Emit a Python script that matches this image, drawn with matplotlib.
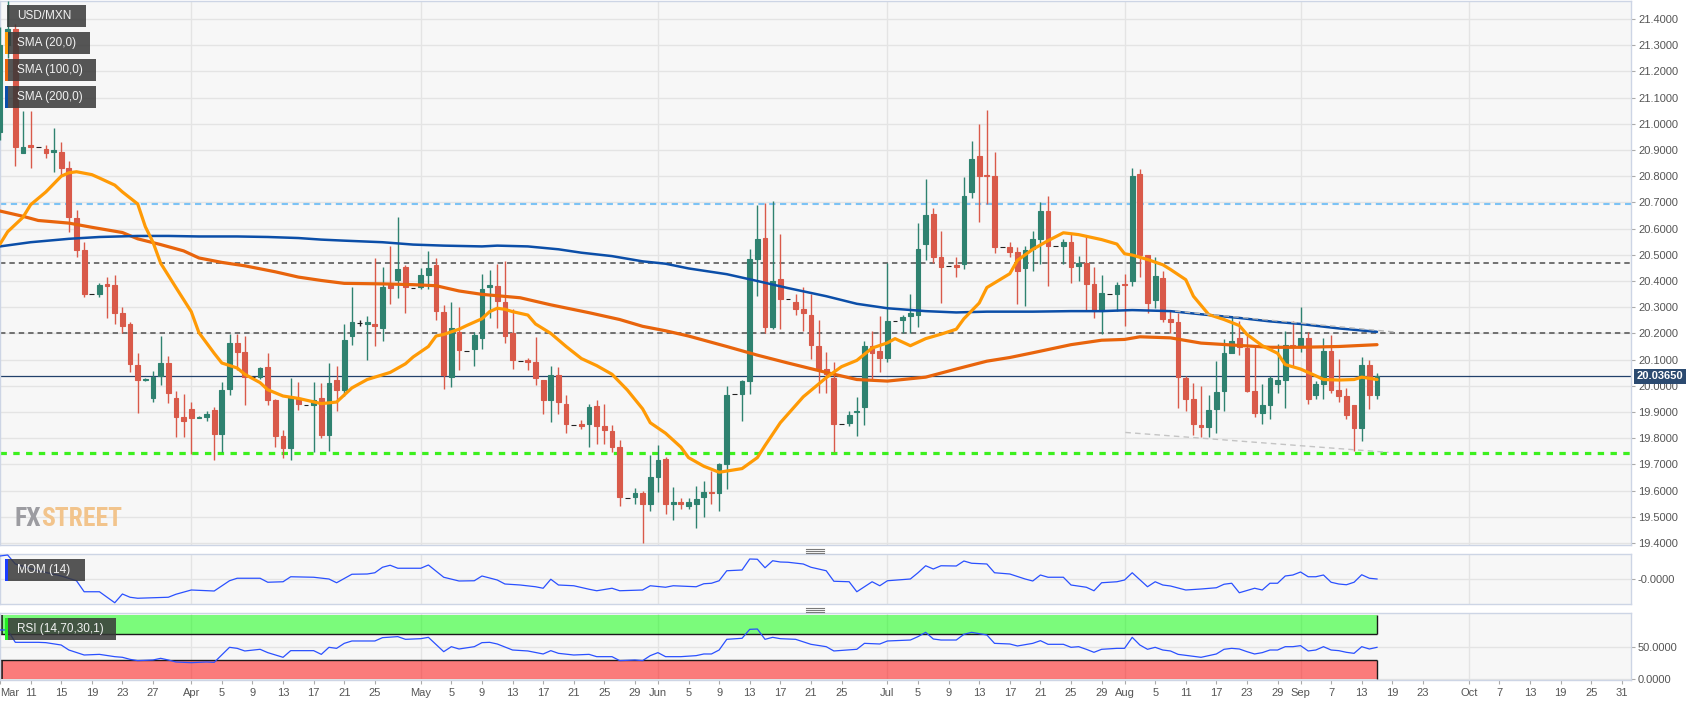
import numpy as np
import pandas as pd
import matplotlib
matplotlib.use("Agg")
import matplotlib.pyplot as plt
from matplotlib.patches import Rectangle
from matplotlib.lines import Line2D

plt.rcParams['font.family'] = ['Liberation Sans', 'DejaVu Sans']

# ---------------------------------------------------------------- data
daily_part = pd.date_range("2022-03-07", "2022-07-31", freq="D")
weekday_part = pd.bdate_range("2022-08-01", "2022-10-31")
slot_dates = daily_part.append(weekday_part)

opens = [
    20.97, 21.30, 21.36, 20.89, 20.92, 20.91, 20.905, 20.894, 20.892, 20.83,
    20.641, 20.517, 20.349, 20.352, 20.389, 20.383, 20.279, 20.236, 20.081, 20.024,
    19.954, 20.037, 20.087, 19.955, 19.881, 19.912, 19.879, 19.881, 19.908, 19.815,
    19.988, 20.163, 20.13, 20.033, 20.033, 20.071, 19.947, 19.808, 19.763, 19.955,
    19.925, 19.927, 19.955, 19.812, 20.022, 19.985, 20.19, 20.239, 20.235, 20.236,
    20.219, 20.385, 20.405, 20.452, 20.372, 20.378, 20.422, 20.462, 20.283, 20.033,
    20.206, 20.134, 20.14, 20.183, 20.376, 20.382, 20.32, 20.201, 20.094, 20.10,
    20.091, 20.024, 19.945, 20.041, 19.931, 19.852, 19.856, 19.856, 19.922, 19.845,
    19.828, 19.766, 19.571, 19.574, 19.591, 19.547, 19.653, 19.719, 19.547, 19.556,
    19.543, 19.547, 19.574, 19.596, 19.591, 19.70, 19.967, 19.967, 20.02, 20.484,
    20.564, 20.223, 20.409, 20.333, 20.32, 20.293, 20.272, 20.153, 20.064, 20.028,
    19.856, 19.859, 19.901, 19.918, 20.153, 20.133, 20.108, 20.249, 20.253, 20.267,
    20.269, 20.541, 20.654, 20.492, 20.458, 20.462, 20.466, 20.74, 20.876, 20.806,
    20.802, 20.53, 20.53, 20.512, 20.448, 20.521, 20.561, 20.667, 20.535, 20.535,
    20.55, 20.458, 20.468, 20.389, 20.285, 20.352, 20.352, 20.39, 20.399, 20.81,
    20.499, 20.329, 20.413, 20.254, 20.243, 20.031, 19.951, 19.852, 19.843, 19.912,
    19.98, 20.127, 20.183, 20.144, 19.98, 19.896, 19.928, 20.007, 20.024, 20.157,
    20.153, 20.183, 19.965, 20.005, 20.133, 19.985, 19.962, 19.925, 19.839, 20.081,
    19.965]
highs = [
    21.37, 21.47, 21.38, 21.05, 21.05, 20.91, 20.92, 20.985, 20.932, 20.857,
    20.67, 20.548, 20.349, 20.394, 20.415, 20.422, 20.299, 20.243, 20.126, 20.03,
    20.057, 20.19, 20.114, 19.98, 19.967, 19.938, 19.885, 19.905, 19.918, 20.014,
    20.197, 20.197, 20.19, 20.033, 20.072, 20.124, 19.951, 19.832, 20.031, 20.014,
    19.925, 20.016, 20.011, 20.087, 20.077, 20.236, 20.378, 20.25, 20.267, 20.488,
    20.452, 20.535, 20.643, 20.46, 20.372, 20.45, 20.513, 20.488, 20.307, 20.318,
    20.302, 20.134, 20.206, 20.426, 20.442, 20.466, 20.475, 20.292, 20.094, 20.105,
    20.186, 20.024, 20.077, 20.073, 19.965, 19.852, 19.87, 19.931, 19.945, 19.931,
    19.85, 19.792, 19.571, 19.61, 19.597, 19.736, 19.775, 19.729, 19.612, 19.57,
    19.57, 19.617, 19.636, 19.673, 19.707, 19.999, 19.967, 20.024, 20.521, 20.691,
    20.696, 20.706, 20.581, 20.333, 20.35, 20.378, 20.349, 20.25, 20.13, 20.09,
    19.856, 19.905, 19.958, 20.17, 20.21, 20.267, 20.468, 20.249, 20.27, 20.349,
    20.621, 20.789, 20.677, 20.59, 20.458, 20.49, 20.797, 20.935, 20.998, 21.054,
    20.892, 20.53, 20.55, 20.528, 20.532, 20.59, 20.70, 20.723, 20.535, 20.56,
    20.585, 20.495, 20.574, 20.455, 20.422, 20.352, 20.395, 20.426, 20.83, 20.826,
    20.501, 20.492, 20.44, 20.29, 20.276, 20.037, 20.012, 19.998, 19.965, 20.095,
    20.179, 20.267, 20.246, 20.196, 20.15, 20.005, 20.037, 20.161, 20.21, 20.246,
    20.299, 20.206, 20.018, 20.183, 20.193, 20.104, 19.992, 19.925, 20.11, 20.097,
    20.05]
lows = [
    20.94, 21.25, 20.84, 20.887, 20.83, 20.91, 20.87, 20.817, 20.806, 20.588,
    20.492, 20.34, 20.349, 20.34, 20.259, 20.236, 20.203, 20.051, 19.898, 20.02,
    19.938, 20.002, 19.935, 19.803, 19.803, 19.739, 19.876, 19.865, 19.715, 19.746,
    19.965, 20.06, 19.925, 20.033, 20.025, 19.925, 19.766, 19.726, 19.715, 19.908,
    19.925, 19.746, 19.799, 19.752, 19.905, 19.96, 20.157, 20.23, 20.10, 20.153,
    20.17, 20.312, 20.336, 20.276, 20.372, 20.37, 20.369, 20.25, 19.987, 19.995,
    20.06, 20.134, 20.075, 20.14, 20.259, 20.219, 20.163, 20.064, 20.094, 20.06,
    20.002, 19.892, 19.862, 19.894, 19.819, 19.852, 19.835, 19.768, 19.779, 19.776,
    19.746, 19.541, 19.571, 19.547, 19.40, 19.523, 19.594, 19.511, 19.487, 19.53,
    19.53, 19.458, 19.50, 19.547, 19.521, 19.607, 19.967, 19.865, 19.967, 20.342,
    20.203, 20.216, 20.216, 20.333, 20.27, 20.21, 20.104, 19.972, 19.972, 19.746,
    19.856, 19.848, 19.808, 19.852, 20.024, 20.051, 20.09, 20.249, 20.20, 20.20,
    20.223, 20.479, 20.468, 20.316, 20.458, 20.415, 20.444, 20.717, 20.627, 20.694,
    20.508, 20.53, 20.49, 20.312, 20.306, 20.44, 20.466, 20.382, 20.535, 20.466,
    20.391, 20.40, 20.285, 20.259, 20.196, 20.352, 20.285, 20.227, 20.382, 20.415,
    20.276, 20.296, 20.245, 20.20, 19.914, 19.905, 19.812, 19.803, 19.806, 19.819,
    19.905, 20.124, 20.117, 19.978, 19.882, 19.856, 19.872, 19.971, 19.914, 20.077,
    20.13, 19.932, 19.95, 19.949, 19.971, 19.938, 19.874, 19.752, 19.79, 19.912,
    19.951]
closes = [
    21.30, 21.36, 20.91, 20.91, 20.91, 20.91, 20.887, 20.90, 20.83, 20.643,
    20.519, 20.352, 20.349, 20.383, 20.381, 20.276, 20.23, 20.084, 20.024, 20.027,
    20.033, 20.087, 19.971, 19.882, 19.865, 19.879, 19.882, 19.894, 19.815, 19.985,
    20.163, 20.13, 20.033, 20.033, 20.067, 19.945, 19.808, 19.763, 19.958, 19.932,
    19.925, 19.945, 19.812, 20.009, 19.985, 20.174, 20.243, 20.239, 20.245, 20.23,
    20.378, 20.375, 20.444, 20.376, 20.372, 20.422, 20.451, 20.285, 20.041, 20.219,
    20.137, 20.134, 20.192, 20.371, 20.383, 20.322, 20.19, 20.10, 20.094, 20.092,
    20.031, 19.945, 20.041, 19.938, 19.856, 19.852, 19.848, 19.918, 19.848, 19.832,
    19.768, 19.574, 19.571, 19.591, 19.547, 19.653, 19.715, 19.547, 19.556, 19.547,
    19.556, 19.569, 19.594, 19.591, 19.70, 19.966, 19.967, 20.017, 20.484, 20.561,
    20.223, 20.40, 20.333, 20.333, 20.293, 20.276, 20.157, 20.064, 20.044, 19.856,
    19.856, 19.888, 19.905, 20.153, 20.124, 20.108, 20.249, 20.249, 20.263, 20.276,
    20.524, 20.651, 20.492, 20.455, 20.458, 20.455, 20.723, 20.866, 20.802, 20.802,
    20.528, 20.53, 20.512, 20.439, 20.519, 20.561, 20.667, 20.535, 20.535, 20.55,
    20.452, 20.468, 20.389, 20.285, 20.353, 20.352, 20.386, 20.386, 20.80, 20.499,
    20.316, 20.418, 20.254, 20.243, 20.035, 19.951, 19.856, 19.843, 19.909, 19.978,
    20.124, 20.17, 20.148, 19.98, 19.896, 19.925, 20.028, 20.024, 20.157, 20.15,
    20.183, 19.951, 20.005, 20.133, 19.985, 19.962, 19.888, 19.839, 20.081, 19.965,
    20.0365]

sma20_idx = [0, 1, 3, 4, 6, 8, 9, 10, 12, 13, 15, 16, 18, 19, 20, 21, 23, 25, 26, 28,
             29, 31, 32, 34, 35, 37, 39, 42, 44, 45, 46, 48, 51, 53, 54, 56, 57, 58, 60, 61,
             63, 64, 65, 66, 67, 69, 70, 72, 74, 76, 78, 80, 82, 84, 85, 87, 89, 90, 92, 94,
             97, 99, 100, 102, 105, 108, 110, 112, 114, 116, 117, 119, 121, 123, 125, 126, 128, 129, 132, 133,
             135, 137, 139, 141, 144, 146, 147, 148, 150, 152, 153, 155, 156, 158, 160, 162, 163, 165, 167, 168,
             170, 172, 173, 175, 177, 178, 180]
sma20_val = [20.541, 20.588, 20.643, 20.691, 20.74, 20.80, 20.813, 20.817, 20.806, 20.793,
             20.766, 20.74, 20.694, 20.607, 20.548, 20.468, 20.375, 20.283, 20.203, 20.124,
             20.087, 20.068, 20.044, 20.012, 19.985, 19.961, 19.952, 19.932, 19.938, 19.965,
             19.992, 20.024, 20.051, 20.084, 20.11, 20.15, 20.19, 20.196, 20.216, 20.23,
             20.256, 20.283, 20.296, 20.292, 20.283, 20.27, 20.236, 20.20, 20.15, 20.104,
             20.077, 20.044, 19.984, 19.912, 19.859, 19.819, 19.766, 19.726, 19.693, 19.67,
             19.684, 19.726, 19.772, 19.859, 19.958, 20.031, 20.073, 20.097, 20.144, 20.164,
             20.18, 20.153, 20.18, 20.197, 20.216, 20.256, 20.316, 20.375, 20.428, 20.479,
             20.521, 20.554, 20.584, 20.577, 20.558, 20.541, 20.504, 20.499, 20.482, 20.462,
             20.444, 20.405, 20.342, 20.272, 20.253, 20.23, 20.196, 20.153, 20.124, 20.081,
             20.064, 20.038, 20.024, 20.022, 20.024, 20.033, 20.024]

sma100_idx = [0, 3, 5, 9, 12, 16, 18, 21, 24, 26, 29, 32, 36, 39, 42, 45, 50, 54, 57, 60,
              63, 68, 72, 77, 81, 84, 87, 90, 95, 99, 103, 108, 112, 116, 121, 125, 129, 132, 135, 140,
              144, 147, 149, 153, 157, 162, 166, 170, 175, 180]
sma100_val = [20.667, 20.647, 20.631, 20.621, 20.605, 20.585, 20.561, 20.539, 20.515, 20.488,
              20.471, 20.458, 20.435, 20.415, 20.402, 20.391, 20.389, 20.386, 20.382, 20.362,
              20.349, 20.336, 20.309, 20.279, 20.253, 20.227, 20.21, 20.19, 20.15, 20.117,
              20.087, 20.051, 20.024, 20.018, 20.033, 20.064, 20.094, 20.108, 20.126, 20.157,
              20.174, 20.177, 20.187, 20.183, 20.163, 20.154, 20.147, 20.147, 20.15, 20.157]

sma200_idx = [0, 4, 9, 13, 18, 22, 26, 31, 35, 39, 42, 45, 50, 54, 58, 63, 65, 69, 73, 76,
              80, 84, 87, 90, 95, 99, 103, 108, 112, 116, 121, 125, 129, 135, 140, 144, 148, 153, 157, 162,
              166, 170, 175, 180]
sma200_val = [20.532, 20.548, 20.561, 20.568, 20.572, 20.572, 20.57, 20.57, 20.568, 20.564,
              20.558, 20.554, 20.548, 20.539, 20.535, 20.532, 20.535, 20.532, 20.521, 20.508,
              20.495, 20.475, 20.466, 20.448, 20.426, 20.40, 20.373, 20.342, 20.313, 20.296,
              20.285, 20.28, 20.283, 20.283, 20.285, 20.285, 20.289, 20.285, 20.273, 20.259,
              20.246, 20.236, 20.219, 20.206]

mom_idx = [0, 1, 2, 5, 8, 10, 11, 13, 15, 16, 17, 18, 20, 22, 23, 25, 28, 30, 31, 34,
           35, 37, 38, 41, 43, 44, 46, 48, 49, 50, 51, 52, 55, 56, 58, 60, 62, 63, 65, 66,
           68, 70, 71, 72, 73, 75, 77, 78, 80, 81, 84, 85, 87, 88, 91, 92, 93, 94, 95, 97,
           98, 99, 100, 101, 102, 103, 105, 106, 108, 109, 111, 112, 114, 115, 116, 119, 120, 121, 122, 123,
           125, 126, 127, 129, 130, 132, 134, 135, 136, 137, 139, 140, 142, 143, 144, 146, 147, 148, 150, 151,
           152, 153, 155, 157, 159, 160, 161, 162, 164, 165, 166, 167, 168, 169, 170, 171, 172, 173, 174, 175,
           176, 177, 178, 179, 180]
mom_val = [0.92, 0.96, 0.60, 0.33, 0.12, -0.07, -0.51, -0.51, -0.95, -0.60,
           -0.73, -0.77, -0.75, -0.73, -0.61, -0.44, -0.48, -0.07, 0.03, 0.03,
           -0.13, -0.11, 0.09, 0.07, 0.0, -0.15, 0.19, 0.20, 0.25, 0.47,
           0.55, 0.43, 0.43, 0.56, 0.07, -0.08, -0.07, 0.12, -0.04, -0.20,
           -0.24, -0.31, -0.37, -0.01, -0.24, -0.27, -0.41, -0.47, -0.37, -0.47,
           -0.44, -0.27, -0.33, -0.27, -0.31, -0.19, -0.17, -0.07, 0.33, 0.36,
           0.80, 0.79, 0.45, 0.73, 0.68, 0.67, 0.60, 0.47, 0.33, -0.09,
           -0.11, -0.51, -0.11, -0.27, -0.07, 0.0, 0.25, 0.53, 0.40, 0.53,
           0.52, 0.72, 0.63, 0.60, 0.25, 0.20, 0.0, -0.08, 0.16, 0.07,
           0.07, -0.24, -0.33, -0.47, -0.15, -0.11, -0.04, 0.25, -0.31, -0.11,
           -0.24, -0.28, -0.44, -0.40, -0.35, -0.21, -0.17, -0.55, -0.37, -0.44,
           -0.17, -0.17, 0.12, 0.16, 0.28, 0.09, 0.09, 0.16, -0.13, -0.20,
           -0.23, -0.13, 0.17, 0.03, 0.0]

rsi_idx = [0, 1, 2, 5, 6, 8, 9, 11, 13, 15, 16, 17, 18, 20, 21, 22, 23, 25, 27, 28,
           30, 31, 32, 34, 35, 37, 38, 41, 42, 43, 44, 45, 46, 49, 50, 52, 53, 55, 56, 58,
           59, 60, 62, 63, 64, 65, 67, 69, 71, 72, 73, 75, 77, 78, 80, 81, 83, 84, 85, 86,
           87, 89, 91, 92, 93, 94, 95, 97, 98, 99, 100, 101, 102, 104, 106, 108, 109, 112, 113, 115,
           116, 119, 120, 121, 122, 123, 125, 126, 127, 129, 130, 132, 133, 135, 136, 137, 139, 140, 141, 142,
           143, 144, 146, 147, 148, 149, 150, 151, 152, 153, 154, 157, 159, 160, 161, 162, 163, 164, 165, 166,
           167, 168, 169, 170, 171, 172, 173, 174, 175, 176, 177, 178, 179, 180]
rsi_val = [76.6, 76.6, 57.3, 57.3, 56.8, 53.1, 45.3, 37.5, 38.5, 34.9,
           33.9, 30.7, 28.7, 29.7, 32.3, 29.7, 26.6, 25.5, 26.6, 26.0,
           49.5, 47.9, 43.8, 46.4, 41.2, 33.9, 44.3, 44.3, 38.5, 49.5,
           47.9, 55.7, 59.4, 59.4, 64.6, 66.2, 62.0, 63.0, 65.1, 42.7,
           50.5, 46.9, 50.5, 56.8, 57.3, 54.7, 45.3, 43.8, 39.1, 44.3,
           40.1, 37.5, 38.5, 34.9, 34.9, 28.7, 29.7, 28.7, 36.5, 41.2,
           34.9, 34.9, 36.5, 39.1, 39.1, 45.3, 62.0, 63.6, 77.6, 78.1,
           62.0, 65.1, 63.0, 62.0, 54.2, 50.5, 43.8, 46.4, 55.7, 54.7,
           59.4, 60.9, 66.2, 72.9, 62.5, 60.9, 60.9, 69.8, 72.9, 68.8,
           55.7, 54.7, 51.6, 55.7, 59.9, 54.2, 54.2, 49.5, 50.5, 46.4,
           41.7, 46.4, 47.9, 47.9, 65.1, 53.1, 46.4, 49.5, 45.3, 43.8,
           38.5, 33.9, 39.1, 46.4, 47.9, 46.9, 42.7, 39.1, 41.2, 45.3,
           45.3, 50.5, 50.5, 52.1, 43.8, 45.3, 50.5, 45.3, 44.3, 41.7,
           40.1, 50.5, 46.9, 49.5]

levels_dashed_blue = [20.695]
levels_dashed_gray = [20.468, 20.20]
levels_dashed_green = [19.745]
trend_support_idx = [147.1, 181.5]
trend_support_val = [19.822, 19.746]
trend_resist_idx = [153.6, 182.4]
trend_resist_val = [20.285, 20.205]

tick_dates = ["2022-03-07", "2022-03-11", "2022-03-15", "2022-03-19", "2022-03-23", "2022-03-27",
              "2022-04-01", "2022-04-05", "2022-04-09", "2022-04-13", "2022-04-17", "2022-04-21", "2022-04-25",
              "2022-05-01", "2022-05-05", "2022-05-09", "2022-05-13", "2022-05-17", "2022-05-21", "2022-05-25",
              "2022-05-29", "2022-06-01", "2022-06-05", "2022-06-09", "2022-06-13", "2022-06-17", "2022-06-21",
              "2022-06-25", "2022-07-01", "2022-07-05", "2022-07-09", "2022-07-13", "2022-07-17", "2022-07-21",
              "2022-07-25", "2022-07-29", "2022-08-01", "2022-08-05", "2022-08-11", "2022-08-17", "2022-08-23",
              "2022-08-29", "2022-09-01", "2022-09-07", "2022-09-13", "2022-09-19", "2022-09-23", "2022-10-03",
              "2022-10-07", "2022-10-13", "2022-10-19", "2022-10-25", "2022-10-31"]
tick_labels = ["Mar", "11", "15", "19", "23", "27", "Apr", "5", "9", "13", "17", "21", "25",
               "May", "5", "9", "13", "17", "21", "25", "29", "Jun", "5", "9", "13", "17", "21",
               "25", "Jul", "5", "9", "13", "17", "21", "25", "29", "Aug", "5", "11", "17", "23",
               "29", "Sep", "7", "13", "19", "23", "Oct", "7", "13", "19", "25", "31"]
month_dates = ["2022-04-01", "2022-05-01", "2022-06-01", "2022-07-01", "2022-08-01", "2022-09-01", "2022-10-03"]

# ---------------------------------------------------------------- layout
W, H = 1707, 706
SLOT = 7.652  # px per bar slot
fig = plt.figure(figsize=(W / 100, H / 100), dpi=100)
fig.patch.set_facecolor("white")


def rect(x0, y0, x1, y1):
    return [x0 / W, 1 - y1 / H, (x1 - x0) / W, (y1 - y0) / H]


ax = fig.add_axes(rect(0, 1, 1631, 545))
ax_mom = fig.add_axes(rect(0, 554, 1631, 604), sharex=ax)
ax_rsi = fig.add_axes(rect(0, 613, 1631, 680), sharex=ax)

PANEL = "#f7f7f7"
SPINE = "#cdd5e5"
GRID = "#e4e4e4"
TXT = "#555555"
GREEN = "#2f8270"
RED = "#d95a4a"

for a in (ax, ax_mom, ax_rsi):
    a.set_facecolor(PANEL)
    for s in a.spines.values():
        s.set_color(SPINE)
        s.set_linewidth(1)
    a.yaxis.tick_right()
    a.tick_params(axis="y", length=3, width=0.8, color="#aaaaaa", labelsize=8,
                  labelcolor=TXT, pad=2)
    a.set_axisbelow(True)

ax.set_xlim(0.4 / SLOT, 1631.4 / SLOT)

month_idx = [slot_dates.get_loc(pd.Timestamp(d)) for d in month_dates]
for a in (ax, ax_mom, ax_rsi):
    for m in month_idx:
        a.axvline(m, color=GRID, lw=1, zorder=0)

# ---------------- main panel
ax.set_ylim(19.4 - 2 / 262, 21.4 + 18 / 262)
yt = np.round(np.arange(19.4, 21.401, 0.1), 1)
ax.set_yticks(yt)
ax.set_yticklabels([f"{v:.4f}" for v in yt])
ax.yaxis.grid(True, color=GRID, lw=1)
ax.tick_params(axis="x", length=0, labelbottom=False)

o = np.array(opens); h = np.array(highs); l = np.array(lows); c = np.array(closes)
idx = np.arange(len(o))
cols = np.where(c > o, GREEN, np.where(c < o, RED, "#222222"))
ax.vlines(idx, l, h, colors=cols, lw=1, zorder=3)
ax.bar(idx, c - o, bottom=o, width=0.62, color=cols, edgecolor=cols, linewidth=0.8, zorder=4)

for v in levels_dashed_blue:
    ax.axhline(v, color="#7cc3f5", lw=1.5, ls=(0, (3, 2.2)), zorder=2)
for v in levels_dashed_gray:
    ax.axhline(v, color="#666666", lw=1.3, ls=(0, (3, 2.2)), zorder=2)
for v in levels_dashed_green:
    ax.axhline(v, color="#3cf01e", lw=2.3, ls=(0, (2, 2)), zorder=2)
ax.axhline(closes[-1], color="#22416b", lw=0.9, zorder=2)

ax.plot(trend_support_idx, trend_support_val, color="#c4c4c4", lw=1, ls=(0, (4, 3)), zorder=5)
ax.plot(trend_resist_idx, trend_resist_val, color="#b8b8b8", lw=1, ls=(0, (4, 3)), zorder=6)

ax.plot(sma100_idx, sma100_val, color="#e8640c", lw=2.3, zorder=5, solid_capstyle="round")
ax.plot(sma200_idx, sma200_val, color="#0b4ea8", lw=1.8, zorder=5, solid_capstyle="round")
ax.plot(sma20_idx, sma20_val, color="#ff9a05", lw=2.3, zorder=5, solid_capstyle="round")

ax.annotate(f"{closes[-1]:.5f}", xy=(1, closes[-1]), xycoords=("axes fraction", "data"),
            xytext=(4, 0), textcoords="offset points", ha="left", va="center",
            fontsize=8, fontweight="bold", color="white", annotation_clip=False,
            bbox=dict(boxstyle="square,pad=0.22", fc="#2b4a70", ec="none"), zorder=20)

# watermark (sized to the reference logo width)
logo_fam = ["Roboto Condensed", "Liberation Sans Narrow", "Liberation Sans"]
fx = ax.text(15 / 1631, 1 - (526 - 1) / 544, "FX", transform=ax.transAxes, fontsize=24,
             fontweight="bold", color="#9c9ca1", ha="left", va="baseline",
             family=logo_fam, fontstretch="condensed", zorder=1)
st = ax.annotate("STREET", xy=(1, 0), xycoords=fx, ha="left", va="bottom", fontsize=24,
                 fontweight="bold", color="#f2c48c", family=logo_fam,
                 fontstretch="condensed", zorder=1)
fig.canvas.draw()
r = fig.canvas.get_renderer()
w_now = st.get_window_extent(r).x1 - fx.get_window_extent(r).x0
new_size = min(26, 24 * 108 / w_now)
fx.set_fontsize(new_size)
st.set_fontsize(new_size)

# ---------------- momentum panel
ax_mom.set_ylim(-1, 1)
ax_mom.set_yticks([0])
ax_mom.set_yticklabels(["-0.0000"])
ax_mom.yaxis.grid(True, color=GRID, lw=1)
ax_mom.tick_params(axis="x", length=0, labelbottom=False)
ax_mom.plot(mom_idx, mom_val, color="#2a50ff", lw=0.9, zorder=4)

# ---------------- RSI panel
ax_rsi.set_ylim(-1 / 0.64, (679 - 613) / 0.64)
ax_rsi.set_yticks([0, 50])
ax_rsi.set_yticklabels(["0.0000", "50.0000"])
ax_rsi.yaxis.grid(True, color=GRID, lw=1)
x_left = ax.get_xlim()[0]
last = idx[-1]
ax_rsi.add_patch(Rectangle((x_left, 70), last - x_left, 30, fc=(0, 1, 0, 0.5), ec="none", zorder=1))
ax_rsi.add_patch(Rectangle((x_left, 0), last - x_left, 30, fc=(1, 0, 0, 0.5), ec="none", zorder=1))
ax_rsi.hlines([70, 30], x_left, last, colors="#1a1a1a", lw=1, zorder=2)
ax_rsi.vlines([last, last], [70, 0], [100, 30], colors="#1a1a1a", lw=1, zorder=2)
ax_rsi.vlines([x_left + 0.15, x_left + 0.15], [70, 0], [100, 30], colors="#1a1a1a", lw=1.2, zorder=2)
ax_rsi.plot(rsi_idx, rsi_val, color="#2a50ff", lw=0.9, zorder=4)

tick_idx = [slot_dates.get_loc(pd.Timestamp(d)) for d in tick_dates]
ax_rsi.set_xticks(tick_idx)
ax_rsi.set_xticklabels(tick_labels)
ax_rsi.tick_params(axis="x", length=3, width=0.8, color="#aaaaaa", labelsize=8,
                   labelcolor=TXT, pad=3)
ax_rsi.get_xticklabels()[0].set_ha("left")

# ---------------- legend boxes and handles


def box(x0, y0, x1, y1, fc, alpha=1.0, z=30):
    fig.add_artist(Rectangle((x0 / W, 1 - y1 / H), (x1 - x0) / W, (y1 - y0) / H,
                             transform=fig.transFigure, fc=fc, ec="none", alpha=alpha, zorder=z))


legend_items = [
    ("USD/MXN", (7, 5, 86, 27), None),
    ("SMA (20,0)", (5, 32, 90, 54), "#ff9a05"),
    ("SMA (100,0)", (5, 59, 96, 81), "#e8640c"),
    ("SMA (200,0)", (5, 86, 96, 108), "#0b4ea8"),
    ("MOM (14)", (5, 559, 85, 581), "#1a3cff"),
    ("RSI (14,70,30,1)", (5, 618, 116, 640), "#22ee22"),
]
for label, (x0, y0, x1, y1), stripe in legend_items:
    box(x0, y0, x1, y1, "#383838", alpha=0.85)
    if stripe:
        box(x0, y0, x0 + 2.8, y1, stripe, z=31)
    fig.text(17 / W, 1 - (y0 + y1) / 2 / H, label, color="#f2f2f2", fontsize=8.5,
             ha="left", va="center", zorder=32)

for yy in (548.5, 550.5, 552.5, 607.5, 609.5, 611.5):
    fig.add_artist(Line2D([806 / W, 824 / W], [1 - yy / H] * 2, color="#7a7a7a", lw=0.8))

fig.savefig("out.png", dpi=100, facecolor="white")
